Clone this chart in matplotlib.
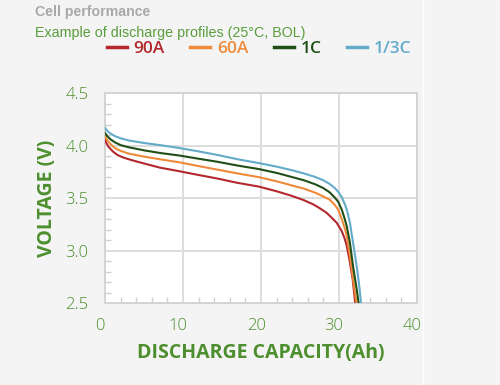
import matplotlib
matplotlib.use("Agg")
import matplotlib.pyplot as plt
from matplotlib.ticker import MultipleLocator
from matplotlib.lines import Line2D
from matplotlib.transforms import ScaledTranslation

# ---- data ----
cap_13c = [0, 0.3, 0.7, 1.3, 2, 3, 5, 7.05, 9.6, 12, 14.5, 17, 19.7, 22, 24, 25.5, 27, 28, 28.8,
           29.4, 29.9, 30.35, 30.7, 31.0, 31.4, 31.8, 32.27, 32.6, 32.85]
v_13c   = [4.17, 4.14, 4.115, 4.09, 4.07, 4.05, 4.025, 4.005, 3.976, 3.945, 3.91, 3.87, 3.834, 3.80,
           3.765, 3.735, 3.70, 3.67, 3.635, 3.60, 3.56, 3.51, 3.45, 3.39, 3.265, 3.075, 2.85, 2.66, 2.48]

cap_1c = [0, 0.3, 0.7, 1.3, 2, 3, 5, 7.05, 9.6, 12, 14.5, 17, 19.7, 22, 24, 25.5, 27, 28, 28.8,
          29.4, 29.9, 30.35, 30.7, 31.0, 31.4, 31.8, 32.27, 32.55]
v_1c   = [4.12, 4.09, 4.06, 4.03, 4.005, 3.985, 3.955, 3.93, 3.905, 3.875, 3.845, 3.81, 3.777, 3.74,
          3.70, 3.67, 3.63, 3.595, 3.555, 3.51, 3.465, 3.39, 3.31, 3.23, 3.075, 2.85, 2.63, 2.48]

cap_60a = [0, 0.3, 0.7, 1.3, 2, 3, 5, 7.05, 9.6, 12, 14.5, 17, 19.7, 22, 24, 25.5, 27, 28, 28.8,
           29.4, 29.9, 30.35, 30.7, 31.0, 31.4, 31.8, 32.2, 32.3]
v_60a   = [4.09, 4.05, 4.015, 3.975, 3.95, 3.925, 3.895, 3.87, 3.84, 3.805, 3.77, 3.735, 3.70, 3.66,
           3.62, 3.59, 3.55, 3.515, 3.485, 3.44, 3.39, 3.30, 3.22, 3.14, 2.95, 2.73, 2.52, 2.46]

cap_90a = [0, 0.2, 0.5, 1, 1.6, 2.4, 3.5, 5, 7.05, 9.6, 12, 14.5, 17, 19.7, 22, 24, 25.5, 26.7,
           27.6, 28.4, 29.1, 29.7, 30.35, 30.7, 31.0, 31.4, 31.75, 32.05, 32.15]
v_90a   = [4.06, 4.02, 3.985, 3.945, 3.91, 3.885, 3.86, 3.83, 3.79, 3.755, 3.72, 3.685, 3.645, 3.61,
           3.565, 3.52, 3.48, 3.44, 3.40, 3.36, 3.31, 3.265, 3.185, 3.12, 3.043, 2.886, 2.728, 2.52, 2.45]

series_labels = ["90A", "60A", "1C", "1/3C"]
series_colors = ["#b3282d", "#ef8a3a", "#1f4f17", "#63abc9"]

x_ticks = [0, 10, 20, 30, 40]
y_ticks = [2.5, 3.0, 3.5, 4.0, 4.5]

GREEN = "#4d8f2e"
BG = "#f4f4f4"

fig = plt.figure(figsize=(5.0, 3.85), dpi=100, facecolor=BG)
ax = fig.add_axes([0.21, 0.213, 0.624, 0.545])
ax.set_facecolor("white")

data = [(cap_90a, v_90a), (cap_60a, v_60a), (cap_1c, v_1c), (cap_13c, v_13c)]
for (xs, ys), c in zip(data, series_colors):
    ax.plot(xs, ys, color=c, lw=1.5, solid_joinstyle="round", zorder=3)

ax.set_xlim(0, 40)
ax.set_ylim(2.5, 4.5)
ax.set_xticks(x_ticks)
ax.set_yticks(y_ticks)
ax.set_yticklabels([f"{v:.1f}" for v in y_ticks])
ax.xaxis.set_minor_locator(MultipleLocator(2))
ax.yaxis.set_minor_locator(MultipleLocator(0.1))

ax.grid(True, which="major", color="#dddddd", lw=1.4, zorder=1)
ax.set_axisbelow(True)
for s in ax.spines.values():
    s.set_color("#d4d4d4")
    s.set_linewidth(1.4)

ax.tick_params(which="both", direction="in", color="#cfcfcf", width=1.0,
               top=False, right=False)
ax.tick_params(which="major", length=0, labelsize=12, labelcolor=GREEN)
ax.tick_params(which="minor", length=4)
ax.tick_params(axis="y", which="major", pad=12)
ax.tick_params(axis="x", which="major", pad=11)
for lab in ax.get_xticklabels() + ax.get_yticklabels():
    lab.set_fontfamily("Open Sans")
    lab.set_fontweight("light")
shift = ScaledTranslation(-5 / 100, 0, fig.dpi_scale_trans)
for lab in ax.get_xticklabels():
    lab.set_transform(lab.get_transform() + shift)

ax.set_xlabel("DISCHARGE CAPACITY(Ah)", fontsize=14, fontweight="bold",
              color=GREEN, family="Open Sans", labelpad=6)
ax.set_ylabel("VOLTAGE (V)", fontsize=14, fontweight="bold",
              color=GREEN, family="Open Sans", labelpad=6)

# Titles
fig.text(0.07, 0.988, "Cell performance", fontsize=10.2, fontweight="bold",
         color="#a8a8a8", family="Liberation Sans", va="top", ha="left")
fig.text(0.07, 0.932, "Example of discharge profiles (25°C, BOL)", fontsize=10.3,
         color="#5a9e3c", family="Liberation Sans", va="top", ha="left")

# Legend
handles = [Line2D([0], [0], color=c, lw=2.5) for c in series_colors]
leg = fig.legend(handles, series_labels, loc="center", bbox_to_anchor=(0.518, 0.874),
                 ncol=4, frameon=False, handlelength=1.15, handletextpad=0.4,
                 columnspacing=1.45, borderpad=0.1,
                 prop={"family": "Open Sans", "weight": "semibold", "size": 12.5})
for t, c in zip(leg.get_texts(), series_colors):
    t.set_color(c)

# thin white vertical separator at right
fig.add_artist(Line2D([0.846, 0.846], [0, 1], color="white", lw=1.0,
                      transform=fig.transFigure))

fig.savefig("out.png", dpi=100, facecolor=BG)
